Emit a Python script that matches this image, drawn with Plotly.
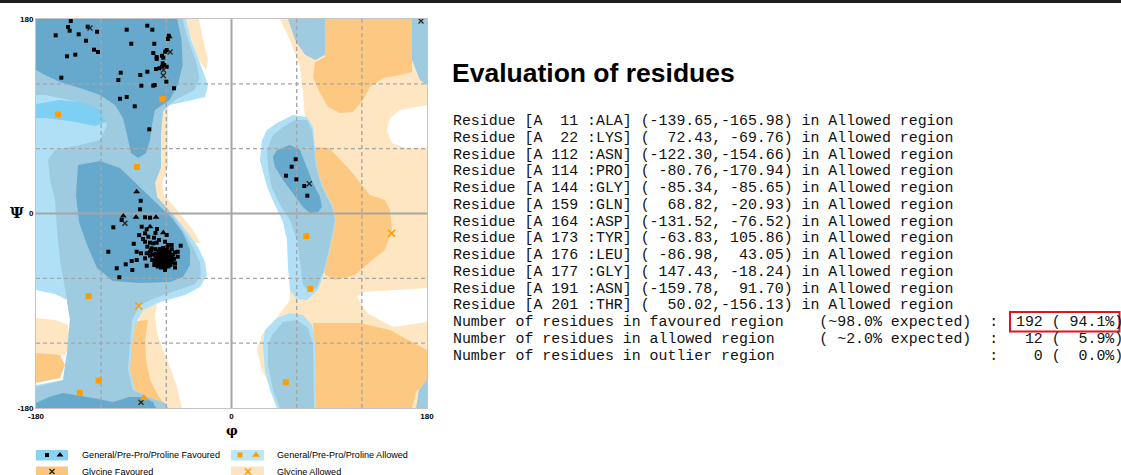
import plotly.graph_objects as go

W, H = 1121, 475

# ---------------- data ----------------
# residues in allowed region (from the evaluation table)
allowed_num = [11, 22, 112, 114, 144, 159, 164, 173, 176, 177, 191, 201]
allowed_res = ["ALA", "LYS", "ASN", "PRO", "GLY", "GLN", "ASP", "TYR", "LEU", "GLY", "ASN", "THR"]
allowed_phi = [-139.65, 72.43, -122.30, -80.76, -85.34, 68.82, -131.52, -63.83, -86.98, 147.43, -159.78, 50.02]
allowed_psi = [-165.98, -69.76, -154.66, -170.94, -85.65, -20.93, -76.52, 105.86, 43.05, -18.24, 91.70, -156.13]

n_favoured, n_allowed, n_outlier = 192, 12, 0
expected_fav, expected_all = "~98.0%", " ~2.0%"

# favoured residues, general / pre-pro (squares)
fav_gen_phi = [
    -148.0, -150.5, -149.0, -132.4, -123.8, -140.7, -161.9, -134.0, -126.6, -122.9, -151.5, -143.8, -156.7,
    -96.5, -77.5, -72.9, -92.3, -71.1, -57.8, -58.5, -72.0, -68.9, -68.9, -64.0, -62.8, -59.7, -61.0,
    -63.3, -61.9, -59.7, -64.0, -69.5, -66.5, -102.0, -84.0, -77.5, -104.2, -83.0, -72.0, -70.7, -60.0,
    -52.9, -96.5, -102.7, -89.1, -75.7,
    59.1, 55.4, 50.2, 59.7, 67.0, 69.8,
    -83.6, -84.2, -79.6, -75.0, -101.1, -108.8, -78.1, -79.6, -76.6, -59.7, -71.4, -79.6, -75.0, -72.0,
    -68.9, -77.5, -73.5, -55.1, -46.8, -87.3, -83.3, -78.1, -75.0, -113.4, -79.6, -87.3, -91.9, -97.4,
    -91.3, -105.7, -103.3, -78.1, -71.1, -61.2, -56.6, -52.0, -49.5, -49.5, -58.2, -61.2, -66.8, -82.7,
    -81.5, -68.6,
    -64, -62, -60, -66, -63, -61, -65, -58, -67, -62, -60, -64, -57, -59, -63, -66, -68, -61, -65, -62,
    -56, -58, -60, -63, -66, -69, -70, -67, -64, -60, -57, -55, -55, -58, -61, -65, -68, -63, -59, -65,
    -62, -66, -60, -64, -57, -61, -67, -69, -56, -63, -59, -66, -62, -64, -60, -65, -58, -62, -67, -61,
    -70, -54, -56, -68, -63, -59, -66, -71, -53, -64, -74, -72, -70, -75, -73, -52, -55,
    -85, -70, -90, -52,
]
fav_gen_psi = [
    178.1, 172.6, 169.2, 172.9, 168.2, 165.8, 164.9, 159.9, 151.6, 149.5, 145.5, 147.0, 125.7,
    170.1, 173.8, 170.1, 157.1, 157.1, 164.5, 161.5, 148.5, 144.8, 143.0, 146.0, 144.2, 151.3, 149.7,
    139.0, 137.4, 135.8, 135.8, 133.7, 134.4, 130.3, 128.2, 131.2, 123.5, 118.3, 118.3, 118.9, 122.0,
    115.9, 107.8, 106.2, 99.2, 77.9,
    50.2, 43.3, 35.0, 31.6, 25.4, 16.5,
    11.8, 3.9, -3.5, -3.9, -6.0, -12.8, -14.6, -18.3, -21.5, -19.9, -22.4, -26.1, -27.0, -27.6,
    -27.0, -30.7, -32.2, -29.1, -29.8, -35.4, -36.8, -36.8, -35.4, -35.4, -41.5, -43.0, -44.0, -47.0,
    -52.3, -50.7, -59.0, -48.3, -47.7, -52.3, -47.7, -46.1, -35.4, -40.0, -29.1, -26.1, -24.5, -12.2,
    -23.6, -14.3,
    -40, -41, -42, -42, -44, -38, -37, -40, -39, -46, -45, -47, -43, -37, -35, -45, -43, -43, -41, -38,
    -39, -46, -48, -49, -48, -46, -41, -35, -33, -34, -35, -41, -45, -49, -50, -50, -38, -42, -43, -44,
    -36, -40, -39, -45, -38, -47, -47, -44, -44, -38, -41, -37, -43, -42, -44, -46, -42, -48, -42, -40,
    -37, -38, -47, -49, -32, -31, -33, -44, -42, -36, -34, -38, -33, -39, -43, -36, -33,
    -20, -18, -28, -50,
]
# favoured proline (triangles)
fav_pro_phi = [-57.3, -87.3, -87.9, -99.6, -75.0, -69.5, -62.8]
fav_pro_psi = [163.6, 20.2, -3.5, -2.3, -12.2, -3.5, -17.8]
# favoured glycine (crosses)
fav_gly_phi = [-130.3, -62.6, -62.8, -56.5, 71.6, 174.5, -83.3, -98.1]
fav_gly_psi = [171.7, 132.8, 127.7, 149.5, 27.6, 178.1, -174.7, -9.1]

grid_dashed = [-120, -60, 60, 120]
grid_solid = [0]
tick_vals = [-180, 0, 180]

# ---------------- region contours (phi, psi) ----------------
GA_right = [(44.7, 180), (53.9, 160.6), (63.1, 135.6), (65.8, 111.6), (67.7, 86.5), (70.5, 61.5), (63.1, 12.5),
            (53.9, -43), (53.9, -80), (40, -98.6), (28, -112.5), (23.5, -126.3), (28, -144.8), (37.3, -163.3),
            (46.5, -180), (180, -180), (180, 180)]
WH_right_up = [(180, 100.4), (155.1, 95.8), (145.9, 88.4), (143.1, 77.3), (147.8, 65.3), (159.8, 60.7), (180, 60.7)]
WH_right_lo = [(115.6, -77.2), (124.8, -92), (148.7, -105), (180, -100.4), (180, -69), (121, -72.6)]
GA_top_left = [(-44, 180), (-30, 180), (-26, 160.6), (-21.5, 142.1), (-23.5, 132.8), (-30.5, 142.1), (-36.5, 160.6)]
GA_mid_left = [(-58.5, 97.6), (-58.5, 74.5), (-58.5, 43), (-64, 28.2), (-62.1, 16.2), (-53.9, 7.9), (-44.7, -3.2),
               (-35.4, -15.3), (-29, -27.3), (-38.2, -27.3), (-75, 12.5), (-75, 95.8)]
GA_low_edge = [(-180, -96.7), (-162.5, -98.6), (-150.5, -103.2), (-148.7, -121.7), (-153.3, -131), (-180, -135.5)]
GA_low_mid = [(-84.2, -89.3), (-68.6, -82.8), (-70.4, -95.7), (-68.6, -110.5), (-63.1, -126.3), (-56.6, -142.1),
              (-50.2, -160.5), (-45.6, -180), (-93.5, -180)]
GF_top_right = [(86.2, 180), (86.2, 144.9), (77, 140.3), (75.1, 126.4), (81.5, 111.6), (88.9, 98.6), (99.9, 93),
                (111.8, 93.9), (121, 105), (127.5, 117), (139.5, 125.3), (155.1, 128.1), (166.2, 130.9), (166.2, 180)]
GF_mid_right = [(76.1, 61.5), (90, 60.7), (109.1, 40.3), (127.5, 17.2), (141.3, 12.5), (145.9, 3.2), (147.8, -15.3),
                (141.3, -33.8), (127.5, -44.9), (113.7, -56.9), (95.3, -61.5), (86.2, -56.9), (81.5, -33.8),
                (83.4, -6), (79.7, 21.7), (75.1, 49.5)]
GF_low_right = [(75.1, -101.3), (118.3, -101.3), (145.9, -107.8), (180, -126.3), (180, -156), (170, -165),
                (166.2, -180), (75.1, -180)]
GF_low_edge = [(-180, -129.1), (-157.9, -131), (-153.3, -140.2), (-157.9, -152.2), (-180, -156.8)]
GF_low_mid = [(-92, -100), (-76.9, -98.6), (-79.6, -117), (-78.7, -135.5), (-75, -154), (-67.7, -168),
              (-61.2, -177.2), (-62, -180), (-95, -180)]
C1_left = [(-180, 180), (-42, 180), (-37, 160.6), (-27.5, 135.6), (-21.6, 119), (-24.4, 107.8), (-42.8, 103.2),
           (-56.6, 100.4), (-63.1, 93.9), (-64.9, 74.5), (-64.9, 43), (-70.4, 28.2), (-68.6, 15.3), (-59.4, 5.1),
           (-49.3, -6), (-40.1, -18), (-30.8, -31), (-24.4, -44.9), (-22.6, -56.9), (-29, -68), (-42.8, -75.4),
           (-65.8, -81.9), (-81.5, -89.3), (-88.8, -103.2), (-91.6, -121.7), (-93.5, -144.8), (-88.8, -163.3),
           (-75, -170.7), (-61.2, -175.4), (-58.5, -180), (-180, -180), (-180, -158.7), (-155.1, -154),
           (-151.5, -129.1), (-148.7, -98.6), (-151.5, -80), (-162.5, -74.5), (-180, -70.8)]
C2_left = [(-180, 180), (-45, 180), (-40, 160.6), (-32.5, 140.2), (-29.5, 125.4), (-34, 114.3), (-52, 105),
           (-63.1, 95.8), (-64.9, 74.5), (-64.9, 43), (-70.4, 28.2), (-68.6, 15.3), (-59.4, 5.1), (-50.2, -7),
           (-41.9, -19.9), (-34.5, -32.9), (-29, -45.8), (-28.1, -56.9), (-33.6, -65.2), (-52, -71.7),
           (-70.4, -78.2), (-84.2, -84.7), (-91.6, -98.6), (-93.5, -121.7), (-95.3, -144.8), (-90.7, -163.3),
           (-75, -170.7), (-61.2, -175.4), (-58.5, -180), (-180, -180), (-180, -160.5), (-155.1, -154),
           (-151.5, -129.1), (-148.7, -98.6), (-151.5, -80), (-157.9, -43), (-160.6, -15.3), (-162.5, 12.5),
           (-167.1, 31), (-168.9, 49.5), (-162.5, 58.8), (-139.5, 63.4), (-121, 68), (-114.6, 81.9),
           (-121, 95.8), (-148.7, 105), (-171.7, 109.7), (-180, 109.7)]
BRIGHT_left = [(-180, 101.3), (-157.9, 105), (-134.9, 102.2), (-121, 95.8), (-115.5, 84.7), (-125.6, 81),
               (-148.7, 85.6), (-171.7, 88.4), (-180, 88.4)]
D_beta = [(-180, 180), (-50, 180), (-46, 160.6), (-45, 137.4), (-49.5, 118.8), (-57, 105), (-70.4, 95.8),
          (-73.2, 81.9), (-75, 68), (-78.7, 56), (-86.1, 51.4), (-92.5, 56), (-96.2, 72.6), (-99.9, 88.4),
          (-107.3, 100.4), (-121, 109.7), (-139.5, 116.1), (-157.9, 121.7), (-171.7, 128.2), (-180, 132.8)]
D_alpha = [(-141.3, 44.9), (-121, 48.6), (-102.7, 42.1), (-84.2, 24.5), (-68.6, 9.7), (-54.8, -4.2), (-44.7, -18),
           (-38.2, -33.8), (-38.2, -47.7), (-44.7, -58.8), (-56.6, -63.4), (-84.2, -64.3), (-109.1, -62.5),
           (-123.8, -50.4), (-133, -29.1), (-140.4, -7.9), (-143.2, 17.1)]
D_bottom = [(-180, -175.4), (-168, -169.9), (-155.1, -166.2), (-143.2, -168), (-127.5, -170.7), (-109.1, -174.4),
            (-94.4, -169.9), (-81.5, -169.9), (-72.3, -174.4), (-69.5, -180), (-180, -180)]
C1_LH = [(41.9, 83.7), (56.6, 91.2), (69.5, 89.3), (75, 80), (76.9, 61.5), (78.7, 43), (84.2, 24.5), (93.5, 6),
         (96.2, -6), (91.6, -29.1), (86.1, -52.3), (79.6, -70.8), (69.5, -80), (60.3, -79.1), (53.9, -70.8),
         (52, -49.5), (51.1, -24.5), (47.4, -7.9), (40, 7.9), (32.7, 24.5), (26.2, 49.5), (28.1, 68), (32.7, 77.3)]
C2_LH = [(47.4, 80), (58.5, 86.5), (69.5, 86.5), (74.1, 77.3), (76, 61.5), (77.8, 43), (83.3, 24.5), (92.5, 6),
         (95.3, -6), (90.7, -29.1), (85.2, -52.3), (78.7, -68), (72.3, -72.6), (65.8, -66.2), (63.1, -44.9),
         (60.3, -24.5), (53.9, -6), (44.7, 7.9), (37.3, 23.6), (33.6, 42.1), (32.7, 58.8), (38.2, 72.6)]
D_LH = [(41.9, 58.8), (53.9, 63.4), (63.1, 58.8), (69.5, 43), (75, 28.2), (81.5, 15.3), (83.3, 6), (79.7, 1.4),
        (72.3, 0.5), (65.8, 6), (56.6, 19), (47.4, 31), (40, 43), (38.2, 52.3)]
C1_BR = [(30.8, -107.8), (41.9, -96.7), (53.9, -92), (65.8, -93.9), (74.1, -103.2), (76.9, -121.7), (77.8, -180),
         (41.9, -180), (35.4, -163.3), (30.8, -144.8), (29, -121.7)]
C2_BR = [(37.3, -112.5), (47.4, -100.4), (60.3, -98.6), (70.5, -105.9), (75.1, -121.7), (76, -180), (44.7, -180),
         (38.2, -163.3), (33.6, -140.2), (33.6, -121.7)]
C2_top_blob = [(52, 180), (86.2, 180), (86.2, 146.8), (77, 142.1), (67.7, 146.8), (58.5, 160.6)]
C2_right_top = [(166.2, 180), (180, 180), (180, 118.8), (173.5, 123.6), (166.2, 142.1)]
C2_right_low = [(180, -154), (172.6, -163.3), (169.9, -180), (180, -180)]

COL_GA, COL_GF = "#fee6c2", "#fdc982"
COL_C1, COL_BR, COL_C2, COL_D = "#afe0f5", "#7dd0f3", "#9ecbe0", "#67a9cd"
COL_WHITE = "#ffffff"

regions = [
    (GA_right, COL_GA), (WH_right_up, COL_WHITE), (WH_right_lo, COL_WHITE),
    (GA_top_left, COL_GA), (GA_mid_left, COL_GA), (GA_low_edge, COL_GA), (GA_low_mid, COL_GA),
    (GF_top_right, COL_GF), (GF_mid_right, COL_GF), (GF_low_right, COL_GF), (GF_low_edge, COL_GF),
    (GF_low_mid, COL_GF),
    (C1_left, COL_C1), (C1_LH, COL_C1), (C1_BR, COL_C1),
    (C2_left, COL_C2), (C2_LH, COL_C2), (C2_BR, COL_C2), (C2_top_blob, COL_C2), (C2_right_top, COL_C2),
    (C2_right_low, COL_C2), (BRIGHT_left, COL_BR),
    (D_beta, COL_D), (D_alpha, COL_D), (D_bottom, COL_D), (D_LH, COL_D),
]

# ---------------- figure ----------------
fig = go.Figure()

for poly, col in regions:
    xs = [p[0] for p in poly]
    ys = [p[1] for p in poly]
    fig.add_trace(go.Scatter(x=xs, y=ys, mode="lines", fill="toself", fillcolor=col,
                             line=dict(width=0, color=col), hoverinfo="skip", showlegend=False))

GRID_COL = "#a6a6a6"
for v in grid_dashed:
    fig.add_trace(go.Scatter(x=[v, v], y=[-180, 180], mode="lines",
                             line=dict(color=GRID_COL, width=1.4, dash="4px,3px"),
                             hoverinfo="skip", showlegend=False))
    fig.add_trace(go.Scatter(x=[-180, 180], y=[v, v], mode="lines",
                             line=dict(color=GRID_COL, width=1.4, dash="4px,3px"),
                             hoverinfo="skip", showlegend=False))
for v in grid_solid:
    fig.add_trace(go.Scatter(x=[v, v], y=[-180, 180], mode="lines",
                             line=dict(color=GRID_COL, width=2), hoverinfo="skip", showlegend=False))
    fig.add_trace(go.Scatter(x=[-180, 180], y=[v, v], mode="lines",
                             line=dict(color=GRID_COL, width=2), hoverinfo="skip", showlegend=False))

ORANGE = "#ff9c00"
# allowed residues split by type
a_gen = [i for i, r in enumerate(allowed_res) if r not in ("PRO", "GLY")]
a_pro = [i for i, r in enumerate(allowed_res) if r == "PRO"]
a_gly = [i for i, r in enumerate(allowed_res) if r == "GLY"]

fig.add_trace(go.Scatter(x=fav_gen_phi, y=fav_gen_psi, mode="markers",
                         marker=dict(symbol="square", size=4, color="black"), showlegend=False))
fig.add_trace(go.Scatter(x=fav_pro_phi, y=fav_pro_psi, mode="markers",
                         marker=dict(symbol="triangle-up", size=6, color="black"), showlegend=False))
fig.add_trace(go.Scatter(x=fav_gly_phi, y=fav_gly_psi, mode="markers",
                         marker=dict(symbol="x-thin", size=5, line=dict(width=1.3, color="#222")),
                         showlegend=False))
fig.add_trace(go.Scatter(x=[allowed_phi[i] for i in a_gen], y=[allowed_psi[i] for i in a_gen], mode="markers",
                         marker=dict(symbol="square", size=6, color=ORANGE), showlegend=False))
fig.add_trace(go.Scatter(x=[allowed_phi[i] for i in a_pro], y=[allowed_psi[i] for i in a_pro], mode="markers",
                         marker=dict(symbol="triangle-up", size=8, color=ORANGE), showlegend=False))
fig.add_trace(go.Scatter(x=[allowed_phi[i] for i in a_gly], y=[allowed_psi[i] for i in a_gly], mode="markers",
                         marker=dict(symbol="x-thin", size=7, line=dict(width=1.6, color=ORANGE)),
                         showlegend=False))

# legend markers on a pixel-based axis restricted to the legend strip
LEG_TOP = 440
leg_x = [47, 60, 240, 256, 52, 248]
leg_y = [455, 455, 455, 455, 471.5, 471.5]
leg_traces = [
    dict(symbol="square", size=4, color="black"),
    dict(symbol="triangle-up", size=6, color="black"),
    dict(symbol="square", size=5, color=ORANGE),
    dict(symbol="triangle-up", size=7, color=ORANGE),
    dict(symbol="x-thin", size=5, line=dict(width=1.3, color="#222")),
    dict(symbol="x-thin", size=6, line=dict(width=1.5, color=ORANGE)),
]
for i, mk in enumerate(leg_traces):
    fig.add_trace(go.Scatter(x=[leg_x[i]], y=[leg_y[i]], xaxis="x2", yaxis="y2", mode="markers",
                             marker=mk, showlegend=False, hoverinfo="skip"))


def fx(px):
    return px / W


def fy(py):
    return 1 - py / H


shapes = [
    dict(type="rect", xref="paper", yref="paper", x0=0, x1=1, y0=fy(3), y1=1,
         fillcolor="#1e1e1e", line=dict(width=0)),
    dict(type="rect", xref="paper", yref="paper", x0=fx(36), x1=fx(68), y0=fy(460.5), y1=fy(450),
         fillcolor="#88d3f2", line=dict(width=0), layer="below"),
    dict(type="rect", xref="paper", yref="paper", x0=fx(231), x1=fx(264), y0=fy(460.5), y1=fy(450),
         fillcolor="#bde6f8", line=dict(width=0), layer="below"),
    dict(type="rect", xref="paper", yref="paper", x0=fx(36), x1=fx(68), y0=fy(477), y1=fy(466.5),
         fillcolor="#fcc57f", line=dict(width=0), layer="below"),
    dict(type="rect", xref="paper", yref="paper", x0=fx(231), x1=fx(264), y0=fy(477), y1=fy(466.5),
         fillcolor="#fde5c1", line=dict(width=0), layer="below"),
]

annotations = []
# axis symbols
annotations.append(dict(x=fx(16.5), y=fy(213.5), xref="paper", yref="paper", text="<b>Ψ</b>", showarrow=False,
                        xanchor="center", yanchor="middle",
                        font=dict(family="DejaVu Serif", size=15, color="black")))
annotations.append(dict(x=fx(231.5), y=fy(430.5), xref="paper", yref="paper", text="<b>φ</b>", showarrow=False,
                        xanchor="center", yanchor="middle",
                        font=dict(family="DejaVu Serif", size=13, color="black")))
# legend texts
leg_texts = [("General/Pre-Pro/Proline Favoured", 80, 455), ("General/Pre-Pro/Proline Allowed", 275, 455),
             ("Glycine Favoured", 80, 471.5), ("Glycine Allowed", 275, 471.5)]
for t, x, y in leg_texts:
    annotations.append(dict(x=fx(x), y=fy(y), xref="paper", yref="paper", text=t, showarrow=False,
                            xanchor="left", yanchor="middle",
                            font=dict(family="Liberation Sans, Arial", size=9.1, color="black")))

# title
annotations.append(dict(x=fx(450), y=fy(73), xref="paper", yref="paper", text="<b>Evaluation of residues</b>",
                        showarrow=False, xanchor="left", yanchor="middle",
                        font=dict(family="Liberation Sans, Arial", size=26.5, color="black")))

# residue table
total = n_favoured + n_allowed + n_outlier
lines = []
for i in range(len(allowed_num)):
    lines.append("Residue [A %3d :%s] (%7.2f,%7.2f) in Allowed region"
                 % (allowed_num[i], allowed_res[i], allowed_phi[i], allowed_psi[i]))
lines.append("Number of residues in favoured region    (%s expected)  :  %3d (%5.1f%%)"
             % (expected_fav, n_favoured, 100.0 * n_favoured / total))
lines.append("Number of residues in allowed region     (%s expected)  :  %3d (%5.1f%%)"
             % (expected_all, n_allowed, 100.0 * n_allowed / total))
lines.append("Number of residues in outlier region" + " " * 22 + "  :  %3d (%5.1f%%)"
             % (n_outlier, 100.0 * n_outlier / total))

for k, ln in enumerate(lines):
    annotations.append(dict(x=fx(450.5), y=fy(121 + 16.76 * k), xref="paper", yref="paper",
                            text=ln.replace(" ", "\u00a0"), showarrow=False, xanchor="left", yanchor="middle",
                            font=dict(family="Courier New, Liberation Mono, monospace", size=14.9, color="#111")))

# red box around favoured count
shapes.append(dict(type="rect", xref="paper", yref="paper", x0=fx(1010), x1=fx(1119.5), y0=fy(331.5), y1=fy(312),
                   line=dict(color="#e3121b", width=2), fillcolor="rgba(0,0,0,0)"))

fig.update_layout(
    width=W, height=H, autosize=False,
    margin=dict(l=0, r=0, t=0, b=0, pad=0),
    paper_bgcolor="white", plot_bgcolor="rgba(0,0,0,0)",
    showlegend=False,
    xaxis=dict(domain=[fx(36), fx(427)], range=[-180, 180], tickvals=tick_vals,
               ticktext=["<b>%d</b>" % v for v in tick_vals], showgrid=False, zeroline=False,
               showline=True, mirror=True, linecolor="#c4c4c4", linewidth=1, ticks="",
               tickfont=dict(family="Liberation Sans, Arial", size=8, color="black"), fixedrange=True,
               automargin=False),
    yaxis=dict(domain=[fy(408), fy(19)], range=[-180, 180], tickvals=tick_vals,
               ticktext=["<b>%d</b>" % v for v in tick_vals], showgrid=False, zeroline=False,
               showline=True, mirror=True, linecolor="#c4c4c4", linewidth=1, ticks="",
               tickfont=dict(family="Liberation Sans, Arial", size=8, color="black"), fixedrange=True,
               automargin=False),
    xaxis2=dict(domain=[0, 1], range=[0, W], visible=False, anchor="y2", fixedrange=True),
    yaxis2=dict(domain=[0, fy(LEG_TOP)], range=[H, LEG_TOP], visible=False, anchor="x2", fixedrange=True),
    shapes=shapes,
    annotations=annotations,
)

fig.write_html("out.html", config={"displayModeBar": False},
               post_script="document.body.style.margin='0';document.body.style.overflow='hidden';")
